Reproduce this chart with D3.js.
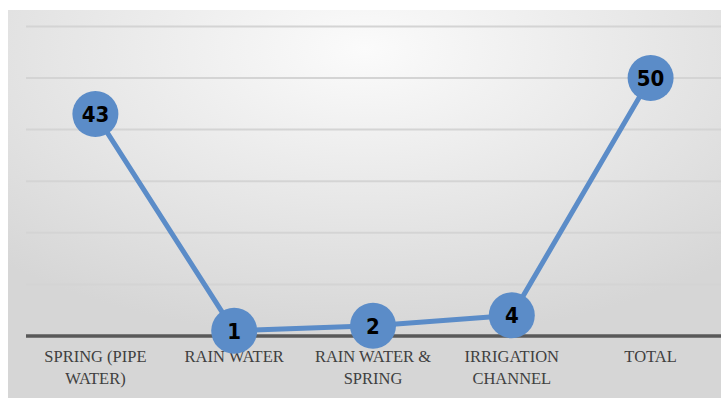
<!DOCTYPE html>
<html>
<head>
<meta charset="utf-8">
<script src="https://cdn.jsdelivr.net/npm/d3@7"></script>
<style>
  body { margin: 0; background: #fff; }
</style>
</head>
<body>
<div id="chart"></div>
<script>
// data
var categories = ["SPRING (PIPE WATER)", "RAIN WATER", "RAIN WATER & SPRING", "IRRIGATION CHANNEL", "TOTAL"];
var catLines = [["SPRING (PIPE", "WATER)"], ["RAIN WATER"], ["RAIN WATER &", "SPRING"], ["IRRIGATION", "CHANNEL"], ["TOTAL"]];
var values = [43, 1, 2, 4, 50];
var yTicks = [0, 10, 20, 30, 40, 50, 60];

var width = 721, height = 399;

var svg = d3.select('#chart')
  .append('svg')
  .attr('width', width)
  .attr('height', height);

// background panel gradient
var defs = svg.append('defs');
var grad = defs.append('radialGradient')
  .attr('id', 'bg')
  .attr('cx', '50%').attr('cy', '10%')
  .attr('r', '75%');
grad.append('stop').attr('offset', '0%').attr('stop-color', '#fbfbfb');
grad.append('stop').attr('offset', '100%').attr('stop-color', '#d6d6d6');

svg.append('rect')
  .attr('x', 8).attr('y', 10)
  .attr('width', width - 8).attr('height', 388)
  .attr('fill', 'url(#bg)');

var xScale = d3.scaleBand()
  .domain(categories)
  .range([26, 720]);

var yScale = d3.scaleLinear()
  .domain([0, 60])
  .range([336, 26.4]);

// gridlines
svg.selectAll('.grid')
  .data(yTicks.slice(1))
  .enter()
  .append('line')
  .attr('x1', 26).attr('x2', width)
  .attr('y1', function (d) { return yScale(d); })
  .attr('y2', function (d) { return yScale(d); })
  .attr('stroke', '#d4d4d4')
  .attr('stroke-width', 2);

// baseline
svg.append('line')
  .attr('x1', 26).attr('x2', width)
  .attr('y1', yScale(0)).attr('y2', yScale(0))
  .attr('stroke', '#595959')
  .attr('stroke-width', 3.5);

// category labels
var labels = svg.selectAll('.cat')
  .data(categories)
  .enter()
  .append('text')
  .attr('text-anchor', 'middle')
  .attr('font-family', '"Liberation Serif", "DejaVu Serif", serif')
  .attr('font-size', 16.5)
  .attr('fill', '#404040');

labels.each(function (d, i) {
  var t = d3.select(this);
  catLines[i].forEach(function (ln, j) {
    t.append('tspan')
      .attr('x', xScale(d) + xScale.bandwidth() / 2)
      .attr('y', 362 + j * 22)
      .text(ln);
  });
});

var cx = function (d, i) { return xScale(categories[i]) + xScale.bandwidth() / 2; };

var line = d3.line()
  .x(function (d, i) { return cx(d, i); })
  .y(function (d) { return yScale(d); });

svg.append('path')
  .datum(values)
  .attr('d', line)
  .attr('fill', 'none')
  .attr('stroke', '#5b8cc8')
  .attr('stroke-width', 5);

svg.selectAll('.dot')
  .data(values)
  .enter()
  .append('circle')
  .attr('cx', cx)
  .attr('cy', function (d) { return yScale(d); })
  .attr('r', 23)
  .attr('fill', '#5b8cc8');

svg.selectAll('.val')
  .data(values)
  .enter()
  .append('text')
  .attr('x', cx)
  .attr('y', function (d) { return yScale(d) + 8; })
  .attr('text-anchor', 'middle')
  .attr('font-family', '"DejaVu Sans Condensed", "Liberation Sans Narrow", sans-serif')
  .attr('font-stretch', 'condensed')
  .attr('font-weight', 'bold')
  .attr('font-size', 22)
  .attr('fill', '#000')
  .text(function (d) { return d; });
</script>
</body>
</html>
